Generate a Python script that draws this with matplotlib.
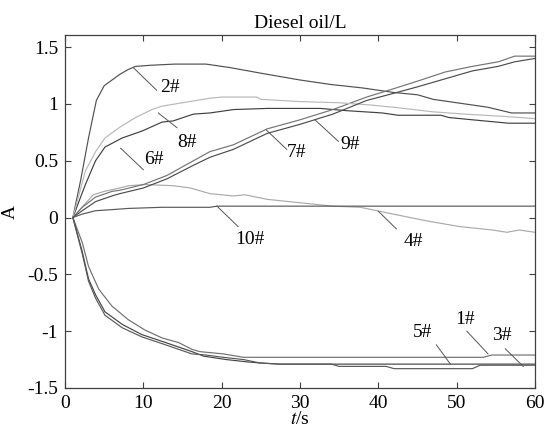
import matplotlib
matplotlib.use("Agg")
import matplotlib.pyplot as plt

plt.rcParams["font.family"] = ["Liberation Serif", "DejaVu Serif"]
plt.rcParams["mathtext.fontset"] = "stix"
plt.rcParams["axes.unicode_minus"] = False

# sensor responses (t in s, A)
t1 = [1, 2.2, 3, 4.3, 6, 8.1, 10.2, 12.4, 14.5, 16.2, 17.2, 20.2, 22.8, 53.4, 54.5, 60]
a1 = [0, -0.22, -0.43, -0.63, -0.78, -0.90, -0.99, -1.06, -1.10, -1.16, -1.18, -1.20, -1.23, -1.23, -1.21, -1.21]

t2 = [1, 2, 3, 4, 5, 6, 7, 8, 9, 11, 14, 18, 21, 25, 30, 34, 38, 42, 45, 47, 50, 54, 57, 60]
a2 = [0, 0.33, 0.70, 1.03, 1.16, 1.21, 1.26, 1.30, 1.33, 1.34, 1.35, 1.35, 1.32, 1.27, 1.21, 1.17, 1.14, 1.10, 1.08, 1.04, 1.01, 0.97, 0.92, 0.92]

t3 = [1, 2.2, 3, 3.9, 5.1, 7.3, 9.8, 12.4, 16.2, 17.7, 20.6, 23.2, 24.9, 27.4, 60]
a3 = [0, -0.30, -0.54, -0.68, -0.83, -0.94, -1.03, -1.09, -1.18, -1.22, -1.25, -1.27, -1.28, -1.29, -1.29]

t4 = [1, 3.6, 5, 7, 8.1, 10.2, 13.8, 16, 18.5, 21.5, 23, 25.8, 30, 34.2, 37.7, 39.8, 41.9, 46.2, 50.4, 54.6, 56.4, 58, 60]
a4 = [0, 0.20, 0.23, 0.26, 0.28, 0.29, 0.28, 0.26, 0.21, 0.19, 0.20, 0.16, 0.13, 0.10, 0.09, 0.06, 0.03, -0.03, -0.08, -0.11, -0.13, -0.11, -0.13]

t5 = [1, 2.2, 3, 3.9, 5.1, 7.3, 9.8, 12.4, 16.2, 18, 20.2, 22.8, 24.9, 27.4, 34, 35, 41, 42, 52, 53, 60]
a5 = [0, -0.32, -0.56, -0.71, -0.86, -0.97, -1.05, -1.11, -1.20, -1.21, -1.23, -1.25, -1.28, -1.29, -1.29, -1.31, -1.31, -1.33, -1.33, -1.30, -1.30]

t6 = [1, 2.6, 3.9, 5.1, 7.3, 9.8, 12.4, 13.8, 16.4, 18.5, 21.5, 25.8, 32.6, 36, 40.5, 42.5, 48, 49, 52, 56.6, 60]
a6 = [0, 0.29, 0.50, 0.62, 0.70, 0.76, 0.84, 0.85, 0.91, 0.92, 0.95, 0.96, 0.96, 0.94, 0.92, 0.90, 0.90, 0.88, 0.86, 0.83, 0.83]

t7 = [1, 2.2, 3.9, 6, 7, 10, 13, 16.4, 18.5, 21.5, 25.8, 30, 34.2, 38.5, 41.8, 45, 48.5, 52, 55.3, 57.4, 60]
a7 = [0, 0.09, 0.18, 0.23, 0.24, 0.29, 0.37, 0.50, 0.58, 0.64, 0.78, 0.86, 0.95, 1.06, 1.13, 1.20, 1.28, 1.33, 1.37, 1.42, 1.42]

t8 = [1, 2.6, 3.9, 5.1, 6.9, 9, 11.1, 12.4, 15, 18.5, 20, 24.5, 25, 30, 35, 39, 42, 47, 51, 56, 60]
a8 = [0, 0.41, 0.58, 0.70, 0.79, 0.88, 0.95, 0.98, 1.01, 1.05, 1.06, 1.06, 1.04, 1.02, 1.01, 0.99, 0.97, 0.93, 0.91, 0.89, 0.87]

t9 = [1, 2.2, 3.9, 6, 7, 10, 13, 16.4, 18.5, 21.5, 25.8, 30, 34.2, 38.5, 41.8, 45, 48.5, 52, 55.3, 57.4, 60]
a9 = [0, 0.06, 0.14, 0.19, 0.21, 0.26, 0.34, 0.46, 0.53, 0.60, 0.74, 0.82, 0.91, 1.03, 1.09, 1.15, 1.22, 1.29, 1.33, 1.37, 1.40]

t10 = [1, 2.2, 3.9, 6.1, 8.1, 12.4, 18.5, 19.4, 60]
a10 = [0, 0.03, 0.06, 0.07, 0.08, 0.09, 0.09, 0.10, 0.10]

series = [(t1, a1), (t2, a2), (t3, a3), (t4, a4), (t5, a5),
          (t6, a6), (t7, a7), (t8, a8), (t9, a9), (t10, a10)]
colors = ["#707070", "#505050", "#444444", "#aaaaaa", "#5a5a5a",
          "#404040", "#747474", "#b8b8b8", "#4c4c4c", "#585858"]

# labels: text position, leader from curve -> towards text
labels = ["1#", "2#", "3#", "4#", "5#", "6#", "7#", "8#", "9#", "10#"]
text_pos = [(51.1, -0.90), (13.4, 1.14), (55.7, -1.04), (44.5, -0.21), (45.7, -1.01),
            (11.3, 0.51), (29.6, 0.57), (15.6, 0.66), (36.4, 0.64), (23.6, -0.19)]
leader_a = [(54.0, -1.20), (8.7, 1.32), (58.5, -1.31), (40.0, 0.055), (49.2, -1.29),
            (7.1, 0.61), (25.7, 0.77), (11.9, 0.92), (31.9, 0.86), (19.4, 0.10)]
leader_b = [(51.3, -1.00), (11.7, 1.12), (56.2, -1.155), (42.3, -0.10), (47.4, -1.12),
            (10.0, 0.42), (28.3, 0.60), (14.3, 0.79), (34.9, 0.67), (22.1, -0.08)]

fs = 14

fig = plt.figure(figsize=(5.45, 4.29), dpi=100)
ax = fig.add_axes([0.1193, 0.0956, 0.8624, 0.8228])

for (t, a), c in zip(series, colors):
    ax.plot(t, a, color=c, lw=0.85)

for lab, tp, la, lb in zip(labels, text_pos, leader_a, leader_b):
    ax.plot([la[0], lb[0]], [la[1], lb[1]], color="#555555", lw=0.7)
    ax.text(tp[0], tp[1], lab, fontsize=fs, ha="center", va="center")

ax.set_xlim(0, 60)
ax.set_ylim(-1.5, 1.606)
ax.set_xticks(range(0, 61, 10))
yt = [-1.5, -1, -0.5, 0, 0.5, 1, 1.5]
ax.set_yticks(yt)
ax.set_yticklabels(["%g" % v for v in yt])
ax.tick_params(direction="in", top=True, right=True, length=4, width=0.8,
               labelsize=fs, color="#404040")
ax.tick_params(axis="x", pad=5)
ax.tick_params(axis="y", pad=5)
for s in ax.spines.values():
    s.set_color("#404040")
    s.set_linewidth(0.9)

ax.set_title("Diesel oil/L", fontsize=fs, pad=5)
ax.set_xlabel("$t$/s", fontsize=fs, labelpad=-0.5)
ax.set_ylabel("A", fontsize=fs, labelpad=6)

fig.savefig("out.png", dpi=100)
